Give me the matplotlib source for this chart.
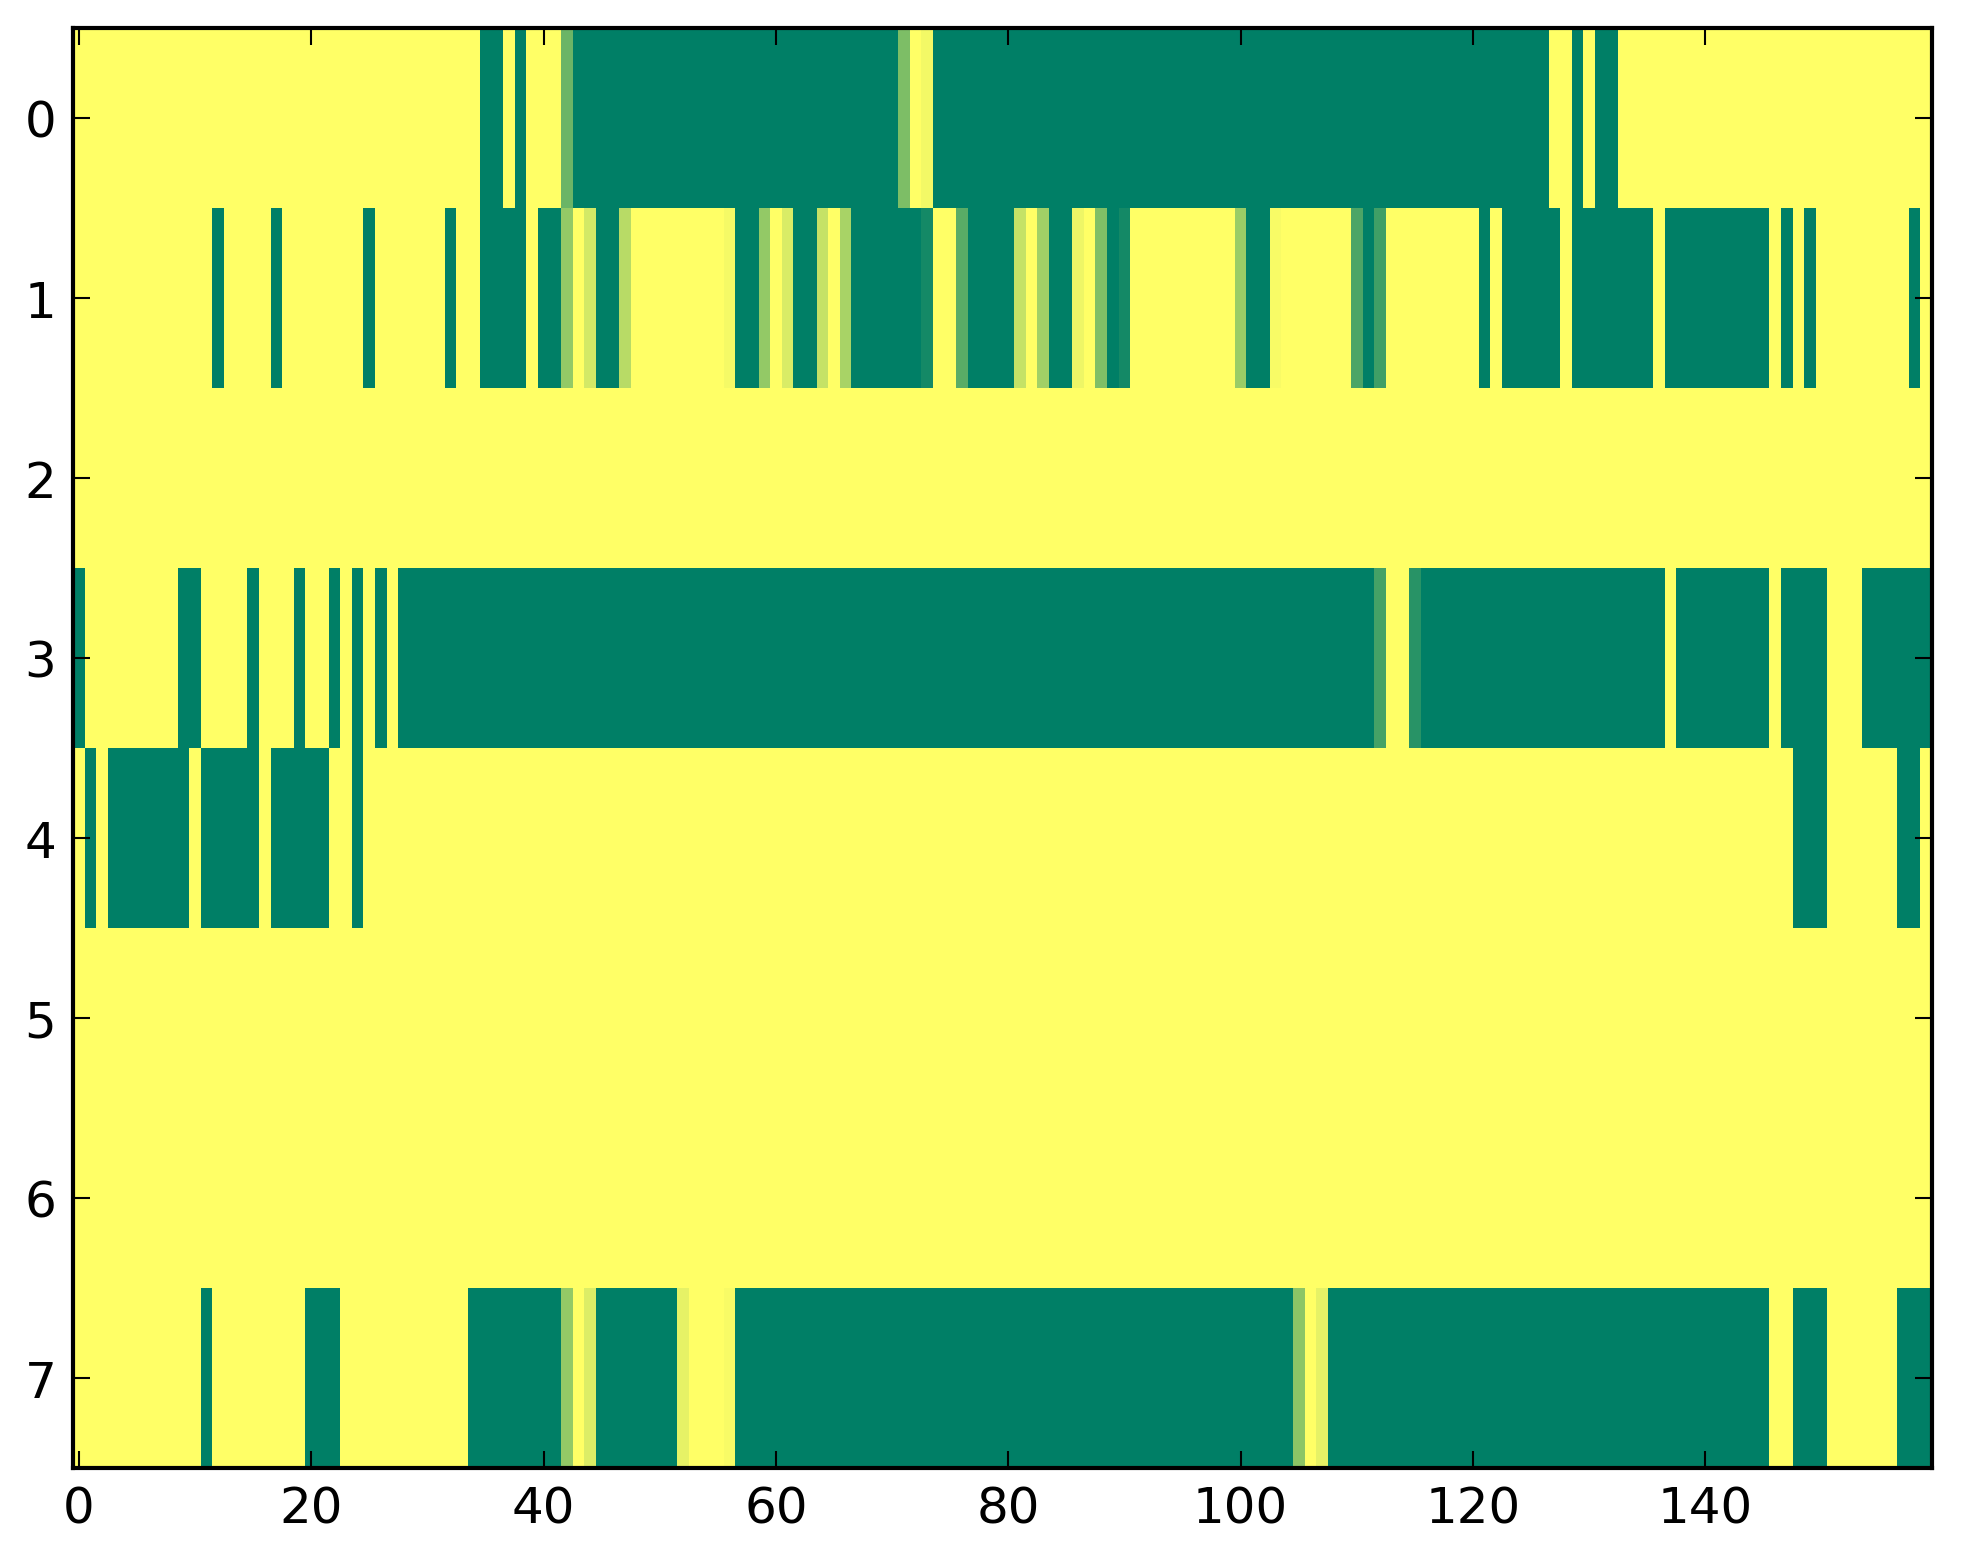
import numpy as np
import matplotlib
matplotlib.use("Agg")
import matplotlib.pyplot as plt

# one list per row of the grid (160 columns each), values in [0, 1]
row_0 = [
    1, 1, 1, 1, 1, 1, 1, 1, 1, 1, 1, 1, 1, 1, 1, 1, 1, 1, 1, 1,
    1, 1, 1, 1, 1, 1, 1, 1, 1, 1, 1, 1, 1, 1, 1, 0, 0, 1, 0, 1,
    1, 1, 0.42, 0, 0, 0, 0, 0, 0, 0, 0, 0, 0, 0, 0, 0, 0, 0, 0, 0,
    0, 0, 0, 0, 0, 0, 0, 0, 0, 0, 0, 0.49, 1, 0.95, 0, 0, 0, 0, 0, 0,
    0, 0, 0, 0, 0, 0, 0, 0, 0, 0, 0, 0, 0, 0, 0, 0, 0, 0, 0, 0,
    0, 0, 0, 0, 0, 0, 0, 0, 0, 0, 0, 0, 0, 0, 0, 0, 0, 0, 0, 0,
    0, 0, 0, 0, 0, 0, 0, 1, 1, 0, 1, 0, 0, 1, 1, 1, 1, 1, 1, 1,
    1, 1, 1, 1, 1, 1, 1, 1, 1, 1, 1, 1, 1, 1, 1, 1, 1, 1, 1, 1,
]
row_1 = [
    1, 1, 1, 1, 1, 1, 1, 1, 1, 1, 1, 1, 0, 1, 1, 1, 1, 0, 1, 1,
    1, 1, 1, 1, 1, 0, 1, 1, 1, 1, 1, 1, 0, 1, 1, 0, 0, 0, 0, 1,
    0, 0, 0.58, 1, 0.83, 0, 0, 0.72, 1, 1, 1, 1, 1, 1, 1, 1, 0.96, 0, 0, 0.58,
    1, 0.85, 0, 0, 0.77, 1, 0.66, 0, 0, 0, 0, 0, 0, 0.08, 1, 1, 0.35, 0, 0, 0,
    0, 0.77, 1, 0.63, 0, 0, 0.93, 1, 0.5, 0, 0.08, 1, 1, 1, 1, 1, 1, 1, 1, 1,
    0.6, 0, 0, 0.97, 1, 1, 1, 1, 1, 1, 0.3, 0, 0.25, 1, 1, 1, 1, 1, 1, 1,
    1, 0, 1, 0, 0, 0, 0, 0, 1, 0, 0, 0, 0, 0, 0, 0, 1, 0, 0, 0,
    0, 0, 0, 0, 0, 0, 1, 0, 1, 0, 1, 1, 1, 1, 1, 1, 1, 1, 0, 1,
]
row_2 = [1] * 160
row_3 = [
    0, 1, 1, 1, 1, 1, 1, 1, 1, 0, 0, 1, 1, 1, 1, 0, 1, 1, 1, 0,
    1, 1, 0, 1, 0, 1, 0, 1, 0, 0, 0, 0, 0, 0, 0, 0, 0, 0, 0, 0,
    0, 0, 0, 0, 0, 0, 0, 0, 0, 0, 0, 0, 0, 0, 0, 0, 0, 0, 0, 0,
    0, 0, 0, 0, 0, 0, 0, 0, 0, 0, 0, 0, 0, 0, 0, 0, 0, 0, 0, 0,
    0, 0, 0, 0, 0, 0, 0, 0, 0, 0, 0, 0, 0, 0, 0, 0, 0, 0, 0, 0,
    0, 0, 0, 0, 0, 0, 0, 0, 0, 0, 0, 0, 0.27, 1, 1, 0.16, 0, 0, 0, 0,
    0, 0, 0, 0, 0, 0, 0, 0, 0, 0, 0, 0, 0, 0, 0, 0, 0, 1, 0, 0,
    0, 0, 0, 0, 0, 0, 1, 0, 0, 0, 0, 1, 1, 1, 0, 0, 0, 0, 0, 0,
]
row_4 = [
    1, 0, 1, 0, 0, 0, 0, 0, 0, 0, 1, 0, 0, 0, 0, 0, 1, 0, 0, 0,
    0, 0, 1, 1, 0, 1, 1, 1, 1, 1, 1, 1, 1, 1, 1, 1, 1, 1, 1, 1,
    1, 1, 1, 1, 1, 1, 1, 1, 1, 1, 1, 1, 1, 1, 1, 1, 1, 1, 1, 1,
    1, 1, 1, 1, 1, 1, 1, 1, 1, 1, 1, 1, 1, 1, 1, 1, 1, 1, 1, 1,
    1, 1, 1, 1, 1, 1, 1, 1, 1, 1, 1, 1, 1, 1, 1, 1, 1, 1, 1, 1,
    1, 1, 1, 1, 1, 1, 1, 1, 1, 1, 1, 1, 1, 1, 1, 1, 1, 1, 1, 1,
    1, 1, 1, 1, 1, 1, 1, 1, 1, 1, 1, 1, 1, 1, 1, 1, 1, 1, 1, 1,
    1, 1, 1, 1, 1, 1, 1, 1, 0, 0, 0, 1, 1, 1, 1, 1, 1, 0, 0, 1,
]
row_5 = [1] * 160
row_6 = [1] * 160
row_7 = [
    1, 1, 1, 1, 1, 1, 1, 1, 1, 1, 1, 0, 1, 1, 1, 1, 1, 1, 1, 1,
    0, 0, 0, 1, 1, 1, 1, 1, 1, 1, 1, 1, 1, 1, 0, 0, 0, 0, 0, 0,
    0, 0, 0.58, 1, 0.86, 0, 0, 0, 0, 0, 0, 0, 0.9, 1, 1, 1, 0.97, 0, 0, 0,
    0, 0, 0, 0, 0, 0, 0, 0, 0, 0, 0, 0, 0, 0, 0, 0, 0, 0, 0, 0,
    0, 0, 0, 0, 0, 0, 0, 0, 0, 0, 0, 0, 0, 0, 0, 0, 0, 0, 0, 0,
    0, 0, 0, 0, 0, 0.55, 1, 0.9, 0, 0, 0, 0, 0, 0, 0, 0, 0, 0, 0, 0,
    0, 0, 0, 0, 0, 0, 0, 0, 0, 0, 0, 0, 0, 0, 0, 0, 0, 0, 0, 0,
    0, 0, 0, 0, 0, 0, 1, 1, 0, 0, 0, 1, 1, 1, 1, 1, 1, 0, 0, 0,
]

x_ticks = [0, 20, 40, 60, 80, 100, 120, 140]
y_ticks = [0, 1, 2, 3, 4, 5, 6, 7]

grid = np.array([row_0, row_1, row_2, row_3, row_4, row_5, row_6, row_7], dtype=float)

W, H = 1963, 1564
fig = plt.figure(figsize=(W / 300, H / 300), dpi=300)
# axes box in pixels: left 73, right 1932, top 29, bottom 1469
ax = fig.add_axes([73 / W, (H - 1469) / H, (1932 - 73) / W, (1469 - 29) / H])

ax.imshow(grid, cmap="summer", vmin=0, vmax=1, interpolation="nearest", aspect="auto")

ax.set_xticks(x_ticks)
ax.set_yticks(y_ticks)
ax.tick_params(direction="in", top=True, right=True, length=4, width=0.5,
               labelsize=12, pad=4, colors="black")
for sp in ax.spines.values():
    sp.set_linewidth(1.0)
    sp.set_color("black")

fig.savefig("out.png", dpi=300, facecolor="white")
